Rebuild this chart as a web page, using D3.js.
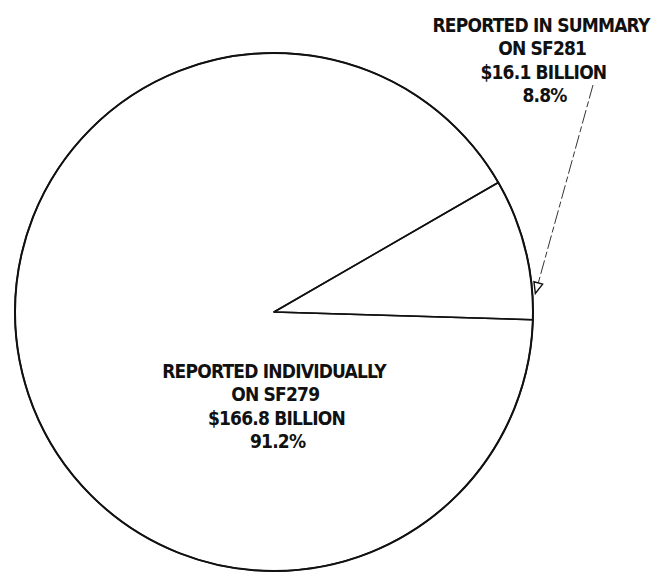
<!DOCTYPE html>
<html>
<head>
<meta charset="utf-8">
<script src="https://cdn.jsdelivr.net/npm/d3@7"></script>
<style>
  html, body { margin: 0; padding: 0; background: #fff; }
  #chart-container text {
    font-family: "DejaVu Sans Condensed", "DejaVu Sans", sans-serif;
    font-weight: bold;
    letter-spacing: -0.8px;
    fill: #111;
  }
</style>
</head>
<body>
<div id="chart-container"></div>
<script>
// slices, in drawing order (clockwise from the small slice)
const categories = ['summary', 'individually'];
const labelTitles = [
    ['REPORTED IN SUMMARY', 'ON SF281'],
    ['REPORTED INDIVIDUALLY', 'ON SF279']
];
const amounts = [16.1, 166.8];        // $ billion
const amountLabels = ['$16.1 BILLION', '$166.8 BILLION'];
const percentLabels = ['8.8%', '91.2%'];

const width = 662;
const height = 572;
const cx = 274;
const cy = 312;
const radius = 259;

const svg = d3
    .select('#chart-container')
    .append('svg')
    .attr('width', width)
    .attr('height', height)
    .append('g')
    .attr('transform', `translate(${cx},${cy})`);

const pie = d3
    .pie()
    .sort(null)
    .value(d => d.value)
    .startAngle(60 * Math.PI / 180)
    .endAngle(60 * Math.PI / 180 + 2 * Math.PI);

const data = categories.map((c, i) => ({ name: c, value: amounts[i] }));
const arcs = pie(data);

const arc = d3.arc().innerRadius(0).outerRadius(radius);

svg
    .selectAll('path.slice')
    .data(arcs)
    .enter()
    .append('path')
    .attr('class', 'slice')
    .attr('d', arc)
    .attr('fill', 'none')
    .attr('stroke', '#111')
    .attr('stroke-width', 1.5)
    .attr('stroke-linejoin', 'round');

// outer rim a bit heavier, like the plotter pen
svg
    .append('circle')
    .attr('r', radius)
    .attr('fill', 'none')
    .attr('stroke', '#111')
    .attr('stroke-width', 2);

const lineH = 23.3;

const writeLabel = (x, yTop, i) => {
    const lines = labelTitles[i].concat([amountLabels[i], percentLabels[i]]);
    const t = svg
        .append('text')
        .attr('text-anchor', 'middle')
        .attr('font-size', 19);
    lines.forEach((s, k) => {
        t.append('tspan')
            .attr('x', x + k * 1.2)
            .attr('y', yTop + k * lineH)
            .text(s);
    });
};

// big slice label sits inside, below the centre
writeLabel(0, 378 - cy, 1);

// small slice label sits outside, top right, with a leader arrow
writeLabel(541 - cx, 32 - cy, 0);

const small = arcs[0];
const tipAngle = small.endAngle - 0.1;
const tip = d3.pointRadial(tipAngle, radius + 3);
const start = [593 - cx, 85 - cy];

svg
    .append('line')
    .attr('x1', start[0])
    .attr('y1', start[1])
    .attr('x2', tip[0])
    .attr('y2', tip[1])
    .attr('stroke', '#333')
    .attr('stroke-width', 1)
    .attr('stroke-dasharray', '14,3,6,3');

// open arrow head
const ang = Math.atan2(tip[1] - start[1], tip[0] - start[0]);
const headLen = 11;
const headW = 4.5;
const back = [tip[0] - headLen * Math.cos(ang), tip[1] - headLen * Math.sin(ang)];
const nx = -Math.sin(ang);
const ny = Math.cos(ang);
svg
    .append('path')
    .attr('d', d3.line()([
        tip,
        [back[0] + nx * headW, back[1] + ny * headW],
        [back[0] - nx * headW, back[1] - ny * headW]
    ]) + 'Z')
    .attr('fill', '#fff')
    .attr('stroke', '#111')
    .attr('stroke-width', 1.4);
</script>
</body>
</html>
